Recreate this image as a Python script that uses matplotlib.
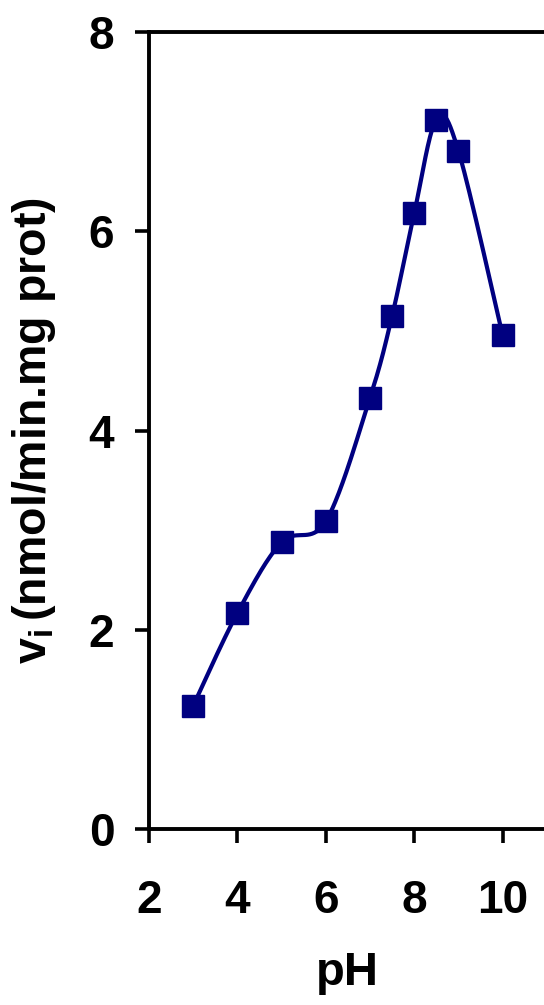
"""
Initial rate vs pH with a smoothed curve through the measured points.
"""

import numpy as np
import matplotlib
matplotlib.use('Agg')
import matplotlib.pyplot as plt


PH = [3, 4, 5, 6, 7, 7.5, 8, 8.5, 9, 10]
RATE = [1.24, 2.17, 2.88, 3.09, 4.33, 5.15, 6.18, 7.12, 6.81, 4.96]

X_TICKS = [2, 4, 6, 8, 10]
Y_TICKS = [0, 2, 4, 6, 8]

NAVY = '#000080'


def catmull_rom(x, y, n=40):
    # uniform Catmull-Rom through the points, ends padded by repetition
    p = np.column_stack([x, y]).astype(float)
    p = np.vstack([p[0], p, p[-1]])
    out = []
    t = np.linspace(0, 1, n)[:, None]
    for i in range(1, len(p) - 2):
        p0, p1, p2, p3 = p[i - 1], p[i], p[i + 1], p[i + 2]
        seg = 0.5 * ((2 * p1) + (-p0 + p2) * t
                     + (2 * p0 - 5 * p1 + 4 * p2 - p3) * t ** 2
                     + (-p0 + 3 * p1 - 3 * p2 + p3) * t ** 3)
        out.append(seg if i == 1 else seg[1:])
    out = np.vstack(out)
    return out[:, 0], out[:, 1]


def main():
    plt.rcParams['font.family'] = 'Liberation Sans'
    plt.rcParams['font.weight'] = 'bold'
    plt.rcParams['mathtext.fontset'] = 'custom'
    plt.rcParams['mathtext.rm'] = 'Liberation Sans:bold'
    plt.rcParams['mathtext.it'] = 'Liberation Sans:bold'

    fig = plt.figure(figsize=(5.44, 10.05), dpi=100)
    ax = fig.add_axes([0.274, 0.175, 0.731, 0.793])

    sx, sy = catmull_rom(PH, RATE)
    ax.plot(sx, sy, color=NAVY, lw=3.0, solid_capstyle='round', zorder=2)
    ax.plot(PH, RATE, ls='none', marker='s', ms=16.5, color=NAVY,
            mec=NAVY, zorder=3, clip_on=False)

    ax.set_xlim(2, 11)
    ax.set_ylim(0, 8)
    ax.set_xticks(X_TICKS)
    ax.set_yticks(Y_TICKS)

    for side in ('left', 'bottom', 'top'):
        ax.spines[side].set_linewidth(2.8)
    ax.spines['right'].set_visible(False)
    ax.tick_params(direction='out', length=10, width=2.6, labelsize=33)
    ax.tick_params(axis='y', pad=15)
    ax.tick_params(axis='x', pad=26)

    ax.set_xlabel('pH', fontsize=34, fontweight='bold', labelpad=20)
    ax.set_ylabel(r'$\mathrm{v_i}\,$(nmol/min.mg prot)', fontsize=33.5,
                  fontweight='bold', labelpad=22)

    fig.savefig('out.png', dpi=100)


if __name__ == "__main__":
    main()
